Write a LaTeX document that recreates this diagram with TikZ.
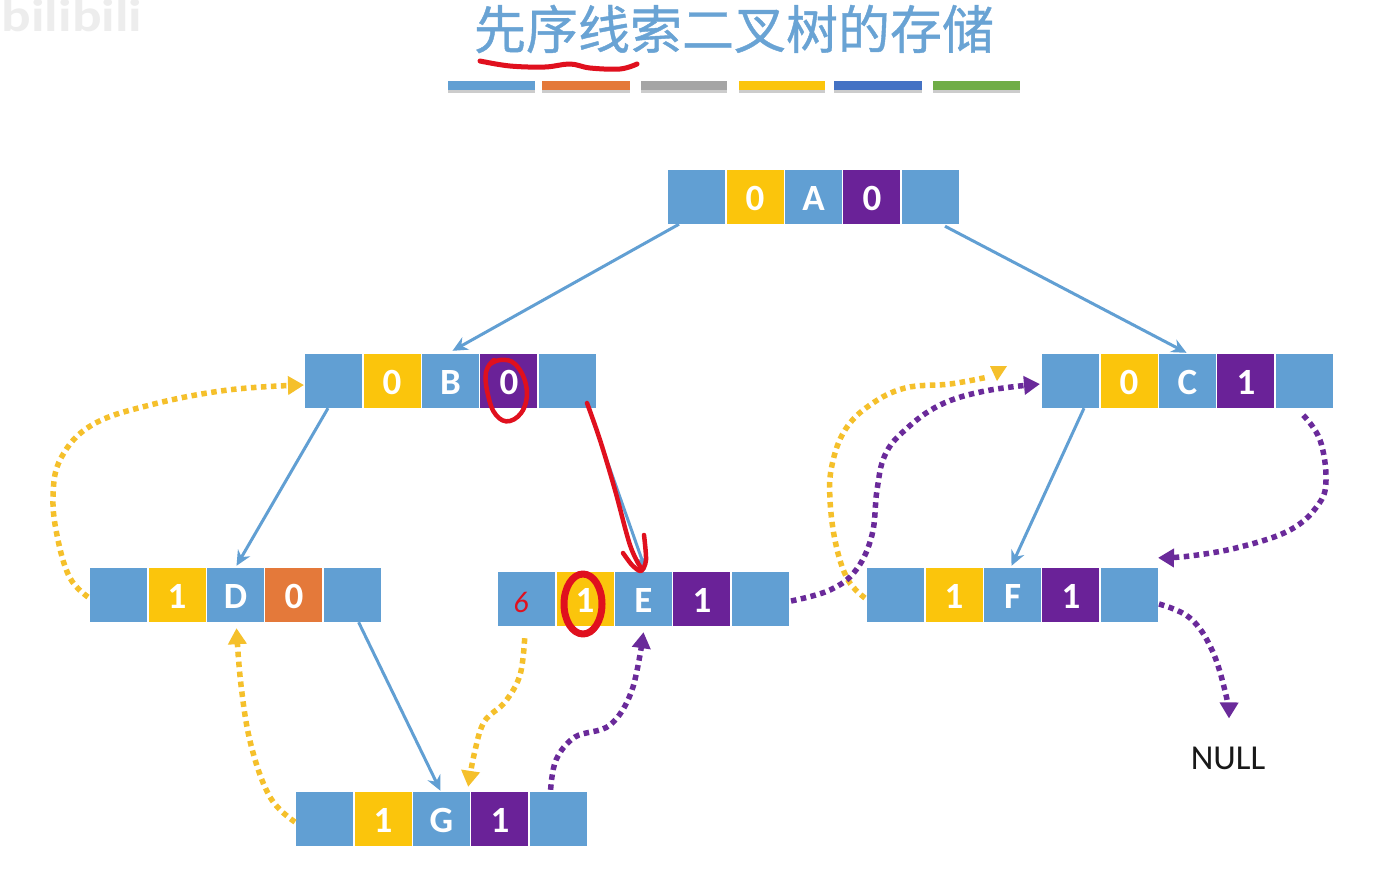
\documentclass[tikz,border=0pt]{standalone}
\usepackage{fontspec}
\setmainfont{Carlito}
\newfontfamily\cjkfont{Noto Sans CJK SC}[FakeBold=0.8]
\usetikzlibrary{arrows.meta,calc}
\definecolor{cellblue}{HTML}{619FD3}
\definecolor{cellyellow}{HTML}{FBC50C}
\definecolor{cellpurple}{HTML}{6A2298}
\definecolor{cellorange}{HTML}{E4793A}
\definecolor{titleblue}{HTML}{69A3D4}
\definecolor{threadyellow}{HTML}{F5C02B}
\definecolor{threadpurple}{HTML}{6A2A9A}
\definecolor{inkred}{HTML}{E0101E}
\definecolor{bardblue}{HTML}{4472C4}
\definecolor{bargreen}{HTML}{70AD47}
\definecolor{bargray}{HTML}{A5A5A5}
\tikzset{
  cell/.style={inner sep=0pt,minimum width=57pt,minimum height=54pt,text=white,
    text height=27pt,text depth=0pt,
    font=\fontsize{37}{37}\selectfont\bfseries},
  treeline/.style={draw=cellblue,line width=3pt,-{Stealth[length=15pt,width=14pt]}},
  thread/.style={line width=5.5pt,dash pattern=on 5.5pt off 4.5pt,
    -{Triangle[length=16pt,width=18pt]}},
  yellowthread/.style={thread,draw=threadyellow,fill=none,color=threadyellow},
  purplethread/.style={thread,draw=threadpurple,fill=none,color=threadpurple},
  ink/.style={draw=inkred,line width=4.5pt,line cap=round,line join=round},
  bar/.style={minimum width=87pt,minimum height=9pt,inner sep=0pt},
}
\newcommand{\recordrow}[8]{%
  \node[cell,fill=cellblue] (#1a) at (#2,#3) {};
  \node[cell,fill=#4] (#1b) at (#2+58.4,#3) {#5};
  \node[cell,fill=cellblue] (#1c) at (#2+116.8,#3) {#6};
  \node[cell,fill=#7] (#1d) at (#2+175.2,#3) {#8};
  \node[cell,fill=cellblue] (#1e) at (#2+233.6,#3) {};
}
\begin{document}
\begin{tikzpicture}[x=1pt,y=-1pt]
\useasboundingbox (0,0) rectangle (1399,878);
\fill[white] (0,0) rectangle (1399,878);

% watermark
\node[text=black!7,font=\fontsize{46}{46}\selectfont\bfseries,inner sep=0pt,xscale=1.2] (mark) at (72,16) {bilibili};

% title
\node[text=titleblue,font=\cjkfont\fontsize{52}{52}\selectfont,inner sep=0pt] (title) at (734,29) {先序线索二叉树的存储};

% colour bars
\foreach \cx/\w/\col/\nm in {491.5/87/cellblue/b1,586/88/cellorange/b2,684/86/bargray/b3,782/86/cellyellow/b4,878/88/bardblue/b5,976.5/87/bargreen/b6}{
  \fill[black!20] (\cx-\w/2,85) rectangle (\cx+\w/2,93);
  \node[bar,minimum width=\w pt,fill=\col] (\nm) at (\cx,85.5) {};
}

% records
\recordrow{A}{696.7}{197}{cellyellow}{0}{A}{cellpurple}{0}
\recordrow{B}{333.7}{381}{cellyellow}{0}{B}{cellpurple}{0}
\recordrow{C}{1070.7}{381}{cellyellow}{0}{C}{cellpurple}{1}
\recordrow{D}{118.7}{595}{cellyellow}{1}{D}{cellorange}{0}
\recordrow{E}{526.7}{599}{cellyellow}{1}{E}{cellpurple}{1}
\recordrow{F}{895.7}{595}{cellyellow}{1}{F}{cellpurple}{1}
\recordrow{G}{324.7}{819}{cellyellow}{1}{G}{cellpurple}{1}

\node[inner sep=0pt,font=\fontsize{35}{35}\selectfont,text=black!90] (null) at (1228,758) {NULL};

% tree edges
\draw[treeline] ($(Aa.south west)+(11,0)$) -- ($(Bc.north)+(2,-3)$);
\draw[treeline] ($(Ae.south east)+(-14,2)$) -- ($(Cc.north)+(-1,-1)$);
\draw[treeline] ($(Ba.south west)+(23,0)$) -- ($(Dc.north)+(1,-2)$);
\draw[treeline] ($(Be.south west)+(50,0)$) -- ($(Ec.north)+(2,-2)$);
\draw[treeline] ($(Ca.south west)+(42,0)$) -- ($(Fc.north)+(-1,-2)$);
\draw[treeline] ($(De.south west)+(35,0)$) -- ($(Gc.north)+(-1,-1)$);

% anchors of the threads
\coordinate (dstart) at ($(Da.west)+(-2,2)$);
\coordinate (bend) at ($(Ba.west)+(-1,4)$);
\coordinate (gstart) at ($(Ga.west)+(-1,3)$);
\coordinate (dend) at ($(Dc.south)+(1,6)$);
\coordinate (estart) at ($(Ea.south)+(-2,12)$);
\coordinate (gend) at ($(Gc.north east)+(-2,-5)$);
\coordinate (gestart) at ($(Ge.north west)+(21,-2)$);
\coordinate (eend) at ($(Ec.south)+(0,6)$);
\coordinate (eout) at ($(Ee.east)+(2,2)$);
\coordinate (cend) at ($(Ca.west)+(-2,3)$);
\coordinate (fstart) at ($(Fa.west)+(-2,3)$);
\coordinate (cstart) at ($(Ce.south)+(-1,7)$);
\coordinate (fend) at ($(Fe.north east)+(0,-10)$);
\coordinate (fout) at ($(Fe.east)+(1,9)$);
\coordinate (nullend) at ($(null.north)+(1,-28)$);

% yellow threads
\draw[yellowthread] plot[smooth,tension=0.65] coordinates {(dstart) (70,578) (58,540) (53,497) (61,458) (92,425) (150,405) (228,390) (bend)};
\draw[yellowthread] plot[smooth,tension=0.65] coordinates {(gstart) (270,797) (251,745) (241,685) (dend)};
\draw[yellowthread] plot[smooth,tension=0.6] coordinates {(estart) (520,675) (505,702) (484,722) (474,755) (gend)};
\draw[threadyellow,line width=5.5pt,dash pattern=on 5.5pt off 4.5pt] plot[smooth,tension=0.65] coordinates {(fstart) (848,580) (836,545) (830,500) (832,465) (845,430) (870,405) (905,388) (950,384) (988,377)};
\fill[threadyellow] (990,366) -- (1007,366) -- (997,381) -- cycle;

% purple threads
\draw[purplethread] plot[smooth,tension=0.6] coordinates {(gestart) (556,760) (575,737) (610,725) (632,690) (eend)};
\draw[purplethread] plot[smooth,tension=0.65] coordinates {(eout) (830,590) (856,570) (872,535) (877,490) (885,455) (905,430) (940,405) (985,391) (cend)};
\draw[purplethread] plot[smooth,tension=0.65] coordinates {(cstart) (1320,440) (1326,480) (1318,505) (1290,530) (1240,547) (1190,556) (fend)};
\draw[purplethread] plot[smooth,tension=0.65] coordinates {(fout) (1190,618) (1212,650) (1226,695) (nullend)};

% red handwriting
\draw[ink,line width=5pt] plot[smooth,tension=0.6] coordinates {(480,61) (510,66) (545,67) (570,64) (590,68) (620,69) (637,64)};
\draw[ink] plot[smooth,tension=0.7] coordinates {(489,365) (500,360) (515,364) (526,385) (524,408) (510,421) (496,415) (488,395) (486,372) (494,360)};
\draw[ink] plot[smooth,tension=0.6] coordinates {(587,403) (600,440) (615,490) (630,545) (641,568)};
\draw[ink] plot[smooth,tension=0.5] coordinates {(623,553) (632,565) (641,571) (646,560) (644,535)};
\draw[ink,line width=7pt] (583,604) ellipse [x radius=19,y radius=30];
\node[text=inkred,font=\fontsize{30}{30}\selectfont\itshape,inner sep=0pt] (six) at (521,602) {6};
\end{tikzpicture}
\end{document}
